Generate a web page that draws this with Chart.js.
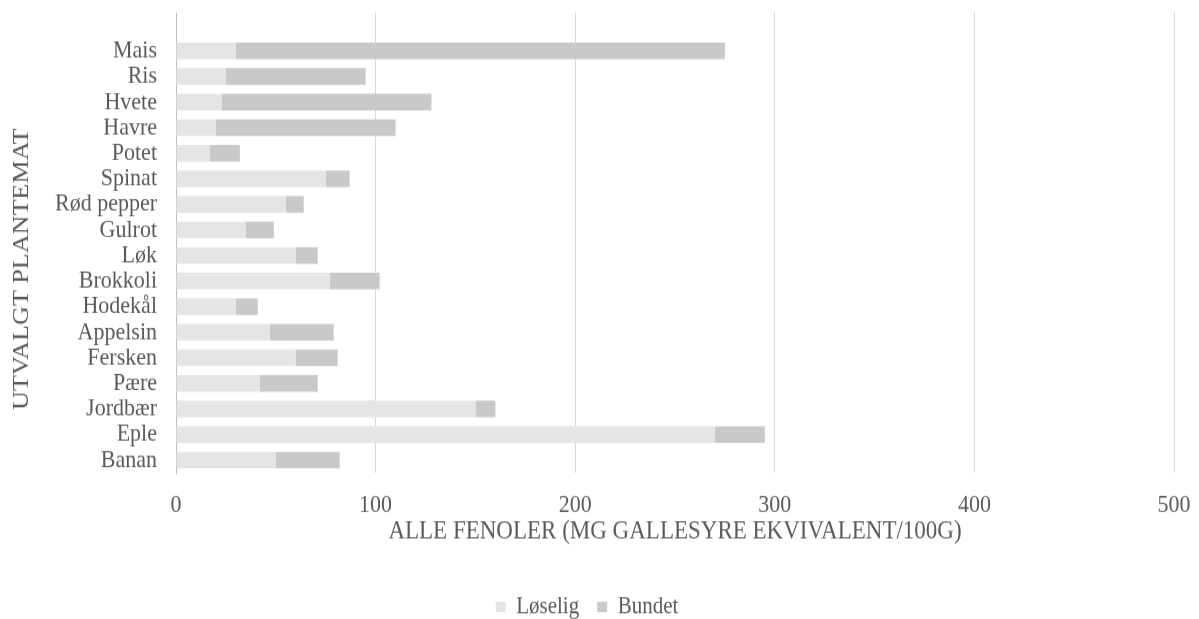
<!DOCTYPE html>
<html>
<head>
<meta charset="utf-8">
<script src="https://cdn.jsdelivr.net/npm/chart.js@4/dist/chart.umd.min.js"></script>
<style>
  html, body { margin: 0; padding: 0; background: #fff; overflow: hidden; }
  /* the chart is laid out on a shorter canvas and stretched vertically */
  #wrap { position: absolute; left: 0; top: 0; width: 1199px; height: 548px; transform: scaleY(1.1506); transform-origin: 0 0; }
  canvas { display: block; background: #fff; }
</style>
</head>
<body>
<div id="wrap"><canvas id="c" width="1199" height="548"></canvas></div>
<script>
// Plant foods (top to bottom); the first, blank row leaves an empty slot above "Mais"
const categories = ['', 'Mais', 'Ris', 'Hvete', 'Havre', 'Potet', 'Spinat', 'Rød pepper', 'Gulrot', 'Løk',
  'Brokkoli', 'Hodekål', 'Appelsin', 'Fersken', 'Pære', 'Jordbær', 'Eple', 'Banan'];

// Total phenols, mg gallic acid equivalent / 100 g
const loselig = [null, 30, 25, 23, 20, 17, 75, 55, 35, 60, 77, 30, 47, 60, 42, 150, 270, 50];
const bundet  = [null, 245, 70, 105, 90, 15, 12, 9, 14, 11, 25, 11, 32, 21, 29, 10, 25, 32];

const xTicks = [0, 100, 200, 300, 400, 500];

const seriesNames = ['Løselig', 'Bundet'];
const axisTitleX = 'ALLE FENOLER (MG GALLESYRE EKVIVALENT/100G)';
const axisTitleY = 'UTVALGT PLANTEMAT';

const FONT = "'Liberation Serif', 'Times New Roman', serif";
const TEXT = '#595959';

// Vertical axis title, placed at a fixed spot beside the category labels
const yTitlePlugin = {
  id: 'yTitle',
  afterDraw(chart) {
    const ctx = chart.ctx;
    ctx.save();
    ctx.translate(22, 234);
    ctx.rotate(-Math.PI / 2);
    ctx.font = `22.7px ${FONT}`;
    ctx.fillStyle = TEXT;
    ctx.textAlign = 'center';
    ctx.textBaseline = 'middle';
    ctx.fillText(axisTitleY, 0, 0);
    ctx.restore();
  }
};

new Chart(document.getElementById('c'), {
  type: 'bar',
  data: {
    labels: categories,
    datasets: [
      { label: seriesNames[0], data: loselig, backgroundColor: '#e5e5e5', borderWidth: 0 },
      { label: seriesNames[1], data: bundet, backgroundColor: '#c9c9c9', borderWidth: 0 }
    ]
  },
  plugins: [yTitlePlugin],
  options: {
    indexAxis: 'y',
    responsive: false,
    devicePixelRatio: 1,
    animation: false,
    datasets: { bar: { barPercentage: 0.65, categoryPercentage: 1.0 } },
    layout: { padding: { top: 11, right: 25, bottom: 0, left: 0 } },
    plugins: {
      tooltip: { enabled: false },
      legend: {
        display: true,
        position: 'bottom',
        labels: { boxWidth: 10, boxHeight: 9, padding: 18, color: TEXT, font: { family: FONT, size: 21 } }
      }
    },
    scales: {
      x: {
        stacked: true, min: 0, max: 500,
        afterBuildTicks: s => { s.ticks = xTicks.map(v => ({ value: v })); },
        afterFit: s => { s.height = 88; s.paddingLeft = 0; s.paddingRight = 0; },
        grid: { color: '#d9d9d9', lineWidth: 1, drawTicks: false },
        border: { display: false },
        ticks: { color: TEXT, padding: 15.5, font: { family: FONT, size: 22 } },
        title: { display: true, text: axisTitleX, color: TEXT, font: { family: FONT, size: 23 }, padding: { top: 0, bottom: 23.5 } }
      },
      y: {
        stacked: true,
        afterFit: s => { s.width = 176; s.paddingTop = 0; s.paddingBottom = 0; },
        grid: { display: false, drawTicks: false },
        border: { display: true, color: '#bfbfbf', width: 1 },
        ticks: { autoSkip: false, color: TEXT, padding: 19, font: { family: FONT, size: 22, lineHeight: 1 } },
        title: { display: false }
      }
    }
  }
});
</script>
</body>
</html>
